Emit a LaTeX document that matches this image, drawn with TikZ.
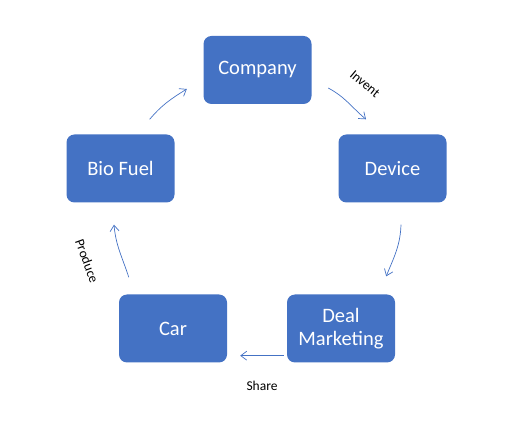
\documentclass[tikz,border=0pt]{standalone}
\usepackage{fontspec}
\setmainfont{Carlito}
\usetikzlibrary{arrows.meta,calc}
\definecolor{boxblue}{HTML}{4472C4}
\tikzset{
  stage/.style={fill=boxblue, rounded corners=8pt, minimum width=108pt,
    minimum height=68pt, inner sep=0pt, align=center, text=white,
    font=\fontsize{20.5}{23}\selectfont},
  flow/.style={draw=boxblue, line width=0.7pt, -{Straight Barb[length=6pt,width=9pt]}},
  tag/.style={font=\fontsize{13.5}{15}\selectfont}
}
\begin{document}
\begin{tikzpicture}[x=1pt, y=1pt]
  \useasboundingbox (0,0) rectangle (524,425);
  % The five stages of the cycle.
  \node[stage] (company) at (257.5,355) {Company};
  \node[stage] (device)  at (392.5,256.5) {Device};
  \node[stage] (deal)    at (341,96.5) {Deal\\Marketing};
  \node[stage] (car)     at (173,96.5) {Car};
  \node[stage] (biofuel) at (120.5,256.5) {Bio Fuel};
  % Curved arrows running clockwise between the stages.
  \draw[flow] ($(company.east)+(16.5,-18)$) to[out=-28, in=140]
    ($(device.north)+(-26.5,15)$);
  \draw[flow] ($(device.south)+(8.5,-22)$) to[out=-92, in=68]
    ($(deal.north east)+(-9,18)$);
  \draw[flow] ($(deal.south west)+(-3,7)$) -- ($(car.south east)+(13,7)$);
  \draw[flow] ($(car.north west)+(10,17)$) to[out=108, in=-85]
    ($(biofuel.south)+(-6.5,-22)$);
  \draw[flow] ($(biofuel.north east)+(-25,15)$) to[out=50, in=-148]
    ($(company.west)+(-16.5,-19)$);
  % Arrow labels.
  \node[tag, rotate=-40] (invent) at (365,341) {Invent};
  \node[tag] (share) at (262,39) {Share};
  \node[tag, rotate=-70] (produce) at (87,164) {Produce};
\end{tikzpicture}
\end{document}
